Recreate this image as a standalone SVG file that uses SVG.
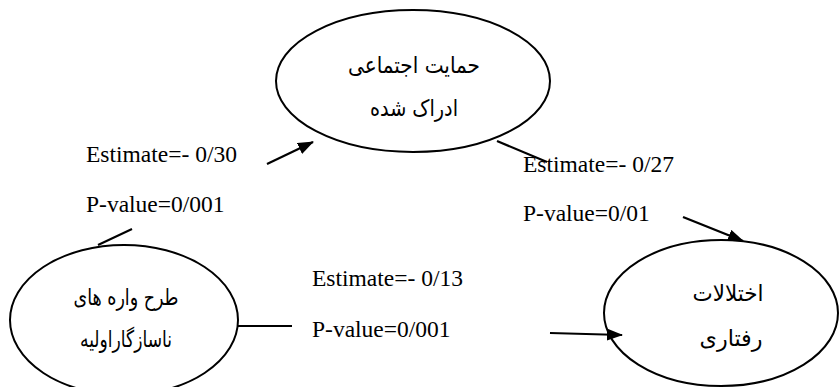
<svg xmlns="http://www.w3.org/2000/svg" width="839" height="387" viewBox="0 0 839 387">
  <style>
    .node { fill: #ffffff; stroke: #000000; stroke-width: 2; }
    .fa { font-family: "DejaVu Sans", "Noto Sans", sans-serif; font-size: 23px; fill: #000000; text-anchor: middle; direction: rtl; }
    .lbl { font-family: "Liberation Serif", "Times New Roman", serif; font-size: 23.5px; fill: #000000; }
    .edge { stroke: #000000; stroke-width: 2.2; fill: none; }
  </style>
  <defs>
    <marker id="arrow" markerUnits="userSpaceOnUse" markerWidth="16" markerHeight="12" refX="15" refY="6" orient="auto">
      <path d="M0,0 L16,6 L0,12 Z" fill="#000000"/>
    </marker>
  </defs>
  <rect width="839" height="387" fill="#ffffff"/>

  <!-- nodes -->
  <g id="support">
    <ellipse class="node" cx="413" cy="81" rx="137" ry="71"/>
    <text class="fa" x="414" y="73" textLength="132" lengthAdjust="spacingAndGlyphs">حمایت اجتماعی</text>
    <text class="fa" x="414" y="116" textLength="88" lengthAdjust="spacingAndGlyphs">ادراک شده</text>
  </g>
  <g id="schemas">
    <ellipse class="node" cx="124" cy="320" rx="114" ry="75"/>
    <text class="fa" x="126" y="305" textLength="105" lengthAdjust="spacingAndGlyphs">طرح واره های</text>
    <text class="fa" x="126" y="347" textLength="92" lengthAdjust="spacingAndGlyphs">ناسازگاراولیه</text>
  </g>
  <g id="disorders">
    <ellipse class="node" cx="721" cy="313" rx="117" ry="73"/>
    <text class="fa" x="728" y="301" textLength="71" lengthAdjust="spacingAndGlyphs">اختلالات</text>
    <text class="fa" x="731" y="346" textLength="63" lengthAdjust="spacingAndGlyphs">رفتاری</text>
  </g>

  <!-- connectors -->
  <g id="connectors">
    <line class="edge" x1="98" y1="245" x2="132" y2="229"/>
    <line class="edge" x1="267" y1="164" x2="313" y2="142" marker-end="url(#arrow)"/>
    <line class="edge" x1="497" y1="141" x2="547" y2="162"/>
    <line class="edge" x1="683" y1="217" x2="743" y2="241" marker-end="url(#arrow)"/>
    <line class="edge" x1="237" y1="326" x2="292" y2="326"/>
    <line class="edge" x1="550" y1="333" x2="622" y2="335" marker-end="url(#arrow)"/>
  </g>

  <!-- path coefficients -->
  <g id="labels">
    <text class="lbl" x="86" y="162">Estimate=- 0/30</text>
    <text class="lbl" x="86" y="212">P-value=0/001</text>
    <text class="lbl" x="523" y="172">Estimate=- 0/27</text>
    <text class="lbl" x="523" y="221">P-value=0/01</text>
    <text class="lbl" x="312" y="286">Estimate=- 0/13</text>
    <text class="lbl" x="312" y="337">P-value=0/001</text>
  </g>
</svg>
